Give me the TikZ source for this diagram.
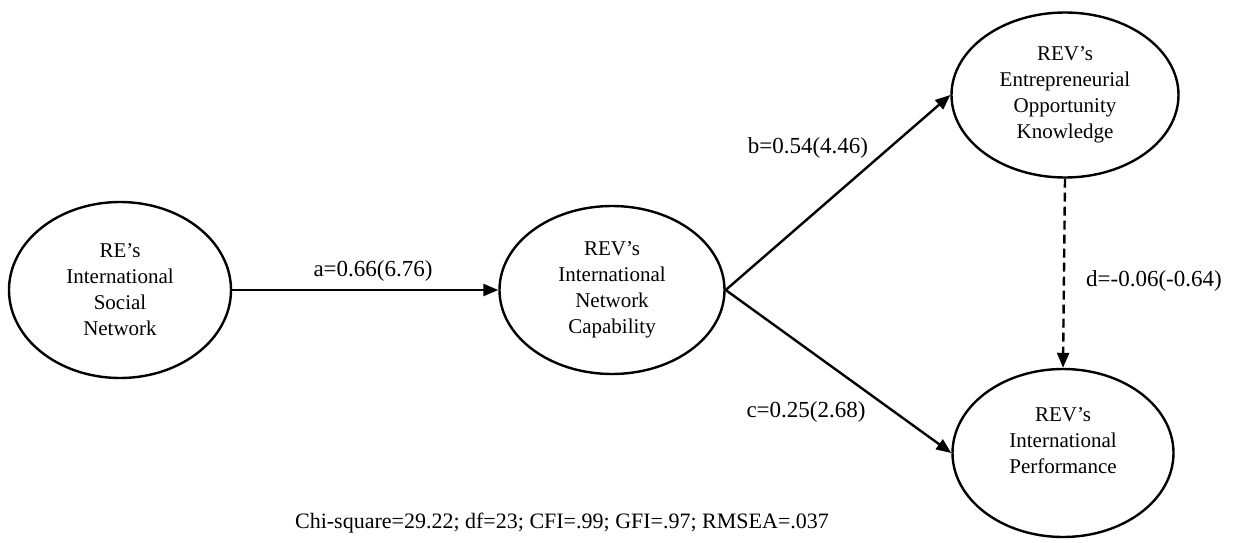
\documentclass[tikz,border=0pt]{standalone}
\usepackage{fontspec}
\setmainfont{Liberation Serif}
\usetikzlibrary{shapes.geometric,arrows.meta}
\begin{document}
\begin{tikzpicture}[x=1pt,y=-1pt,
  latent/.style={ellipse,draw,line width=2.4pt,inner sep=0pt,align=center,
    font=\fontsize{21}{26}\selectfont},
  path/.style={line width=2.4pt,-{Triangle[length=15pt,width=12pt]}},
  coef/.style={font=\fontsize{23}{27}\selectfont,inner sep=0pt}]
\useasboundingbox (0,0) rectangle (1235,543);
\node[latent,minimum width=222pt,minimum height=176pt] (e1) at (120,290)
  {RE’s\\International\\Social\\Network};
\node[latent,minimum width=225pt,minimum height=168pt] (e2) at (612,290)
  {REV’s\\International\\Network\\Capability};
\node[latent,minimum width=227pt,minimum height=165pt] (e3) at (1065,95)
  {REV’s\\Entrepreneurial\\Opportunity\\Knowledge};
\node[latent,minimum width=221pt,minimum height=168pt,text depth=24pt] (e4) at (1063,453)
  {REV’s\\International\\Performance};
\draw[path] (e1) -- (e2);
\draw[path] (e2.east) -- (e3.west);
\draw[path] (e2.east) -- (e4.west);
\draw[path,dashed,dash pattern=on 9pt off 5pt] (e3.south) -- (e4.north);
\node[coef] (la) at (373,271) {a=0.66(6.76)};
\node[coef] (lb) at (808,148) {b=0.54(4.46)};
\node[coef] (lc) at (806,412) {c=0.25(2.68)};
\node[coef] (ld) at (1154,281) {d=-0.06(-0.64)};
\node[font=\fontsize{22}{26}\selectfont,inner sep=0pt] (fit) at (562,523)
  {Chi-square=29.22; df=23; CFI=.99; GFI=.97; RMSEA=.037};
\end{tikzpicture}
\end{document}
